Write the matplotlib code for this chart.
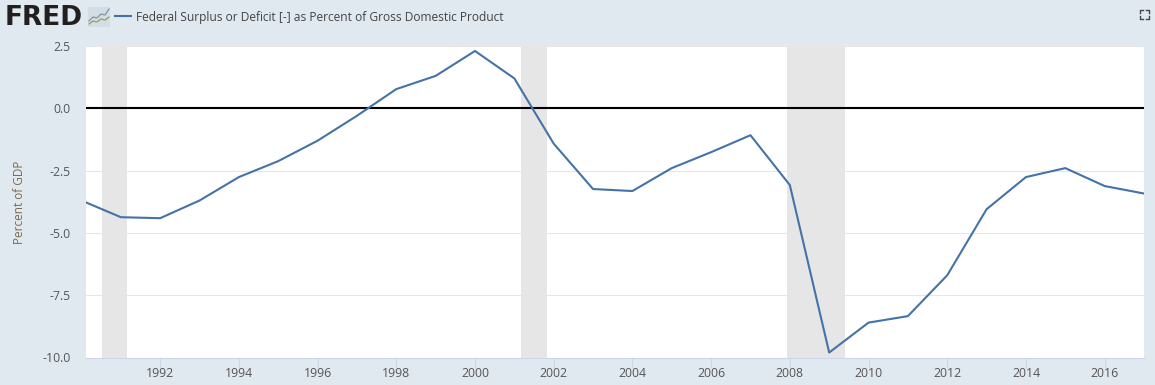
#Federal surplus or deficit as percent of GDP, FRED style
import numpy as np
import matplotlib
matplotlib.use('Agg')
import matplotlib.pyplot as plt
from matplotlib.patches import Rectangle

plt.rcParams['font.family'] = ['Open Sans', 'DejaVu Sans']

# Values
years = [1990, 1991, 1992, 1993, 1994, 1995, 1996, 1997, 1998, 1999, 2000, 2001, 2002, 2003,
         2004, 2005, 2006, 2007, 2008, 2009, 2010, 2011, 2012, 2013, 2014, 2015, 2016, 2017]
deficit = [-3.7, -4.37, -4.41, -3.7, -2.76, -2.12, -1.3, -0.3, 0.77, 1.3, 2.3, 1.2, -1.42, -3.24,
           -3.32, -2.4, -1.76, -1.08, -3.08, -9.8, -8.6, -8.34, -6.7, -4.05, -2.76, -2.4, -3.12, -3.42]
rec_start = [1990.52, 2001.17, 2007.94]
rec_end = [1991.16, 2001.84, 2009.41]
y_ticks = [2.5, 0.0, -2.5, -5.0, -7.5, -10.0]
x_ticks = list(range(1992, 2017, 2))
series_name = 'Federal Surplus or Deficit [-] as Percent of Gross Domestic Product'
y_label = 'Percent of GDP'

bg = '#e1e9f0'
blue = '#4572a7'
W, H = 1155, 385

fig = plt.figure(figsize=(W/100, H/100), dpi=100, facecolor=bg)
ax = fig.add_axes([86/W, 1 - 357.5/H, (1144 - 86)/W, (357.5 - 46)/H])

for a, b in zip(rec_start, rec_end):
    ax.axvspan(a, b, color='#e6e6e6', lw=0, zorder=1)
ax.grid(axis='y', color='#e6e6e6', lw=0.75, zorder=2)
ax.axhline(0, color='black', lw=1.5, zorder=3)
ax.plot(years, deficit, color=blue, lw=1.5, zorder=4, solid_joinstyle='round')

ax.set_xlim(1990.115, 2017)
ax.set_ylim(-10, 2.5)
ax.set_xticks(x_ticks)
ax.set_xticklabels([str(v) for v in x_ticks])
ax.set_yticks(y_ticks)
ax.set_yticklabels([f'{v:.1f}' for v in y_ticks])
ax.tick_params(axis='x', length=7, width=0.75, color='#ccd6eb', labelsize=8.8, labelcolor='#555555', pad=0)
ax.tick_params(axis='y', length=0, labelsize=8.8, labelcolor='#555555', pad=10.8)
for side in ['top', 'right', 'left']:
    ax.spines[side].set_visible(False)
ax.spines['bottom'].set_color('#ccd6eb')
ax.spines['bottom'].set_linewidth(0.75)
ax.set_axisbelow(False)

fig.text(20/W, 1 - 202/H, y_label, rotation=90, ha='center', va='center', fontsize=8.5, color='#7a6a50')

# header: logo, legend key, series name
fig.text(5/W, 1 - 18/H, 'FRED', fontsize=19, fontweight='bold', family=['DejaVu Sans'],
         color='#231f20', ha='left', va='center')
fig.add_artist(Rectangle((88/W, 1 - 27/H), 22/W, 20/H, transform=fig.transFigure, color='#d5dde4', lw=0))
icon_x = [89, 93, 97, 101, 105, 109]
icon_a = [21, 17, 18, 14, 15, 9]
icon_b = [24, 21, 22, 19, 20, 17]
fig.add_artist(plt.Line2D([v/W for v in icon_x], [1 - v/H for v in icon_a], color='#7f93a8', lw=0.9, transform=fig.transFigure))
fig.add_artist(plt.Line2D([v/W for v in icon_x], [1 - v/H for v in icon_b], color='#8aa45a', lw=0.9, transform=fig.transFigure))
fig.add_artist(plt.Line2D([115/W, 131/W], [1 - 16/H, 1 - 16/H], color=blue, lw=1.5, transform=fig.transFigure))
fig.text(136/W, 1 - 17/H, series_name, fontsize=8.65, color='#444444', ha='left', va='center')

# fullscreen icon, top right
for cx, cy, dx, dy in [(1140, 10, 1, 1), (1149, 10, -1, 1), (1140, 19, 1, -1), (1149, 19, -1, -1)]:
    fig.add_artist(plt.Line2D([(cx + 3*dx)/W, cx/W, cx/W], [1 - cy/H, 1 - cy/H, 1 - (cy + 3*dy)/H],
                              color='#444444', lw=1, transform=fig.transFigure))

fig.savefig('out.png', dpi=100, facecolor=bg)
